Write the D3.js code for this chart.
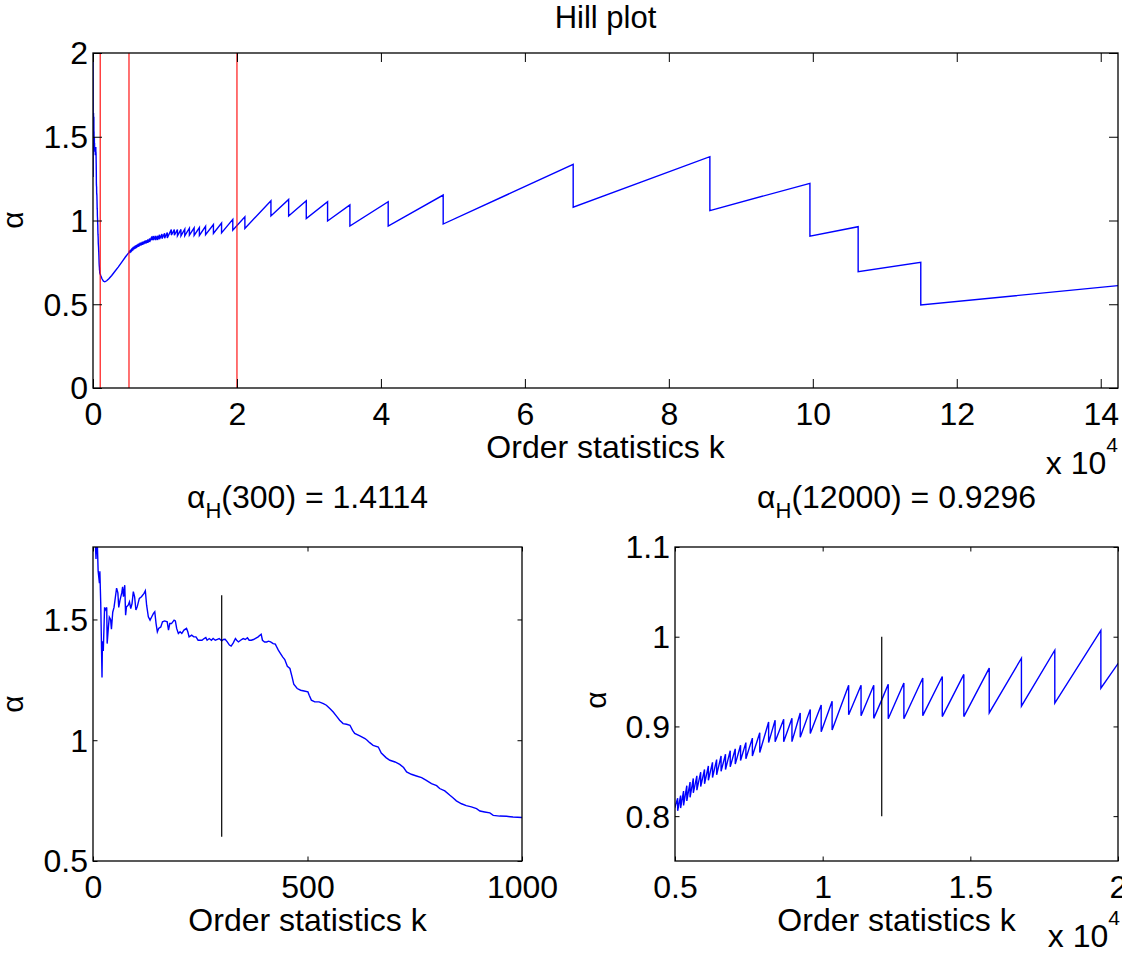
<!DOCTYPE html>
<html>
<head>
<meta charset="utf-8">
<script src="https://cdn.jsdelivr.net/npm/d3@7"></script>
<style>
  html, body { margin: 0; padding: 0; background: #fff; }
  svg { display: block; }
  text { font-family: "Liberation Sans", Arial, Helvetica, sans-serif; font-size: 32px; fill: #000; }
</style>
</head>
<body>
<svg id="fig" width="1122" height="953"></svg>
<script>
// Hill estimator alpha_H(k) for the first 1000 order statistics
const kHead = [1,3,5,7,9,10,12,15,16,18,19,21,22,24,27,29,32,33,36,38,41,43,46,49,52,55,58,60,63,67,69,71,74,76,78,82,85,88,91,94,97,100,103,108,113,119,122,125,129,133,137,141,144,147,150,153,158,162,167,173,176,179,183,189,192,195,199,203,207,212,218,221,224,230,235,240,245,249,254,259,263,266,271,276,280,285,290,294,300,304,308,313,318,322,327,332,335,339,344,350,355,360,364,369,374,378,385,389,392,395,400,405,409,414,420,425,428,432,436,442,447,453,459,464,468,476,484,492,501,504,509,517,527,537,544,552,560,568,575,583,591,599,605,610,622,634,639,645,653,665,672,683,692,704,715,724,731,742,754,766,777,789,801,808,820,832,839,847,859,870,882,894,902,913,925,933,948,964,979,1000];
const alphaHead = [2.40,2.10,1.84,1.75,1.85,1.82,1.70,1.65,1.70,1.57,1.47,1.26,1.41,1.37,1.55,1.54,1.55,1.40,1.47,1.51,1.50,1.46,1.53,1.55,1.59,1.63,1.61,1.55,1.58,1.61,1.635,1.594,1.642,1.518,1.552,1.559,1.573,1.545,1.566,1.615,1.594,1.539,1.552,1.587,1.594,1.608,1.619,1.559,1.511,1.497,1.511,1.525,1.532,1.483,1.449,1.463,1.469,1.490,1.494,1.490,1.456,1.483,1.483,1.497,1.494,1.463,1.442,1.449,1.442,1.456,1.463,1.449,1.428,1.435,1.428,1.428,1.414,1.414,1.414,1.421,1.425,1.414,1.421,1.414,1.421,1.414,1.418,1.421,1.4114,1.417,1.418,1.407,1.394,1.390,1.403,1.421,1.414,1.407,1.414,1.421,1.417,1.424,1.414,1.414,1.417,1.421,1.428,1.435,1.439,1.414,1.407,1.407,1.410,1.407,1.400,1.398,1.387,1.373,1.362,1.345,1.334,1.306,1.297,1.262,1.232,1.214,1.207,1.204,1.200,1.186,1.166,1.159,1.159,1.152,1.145,1.131,1.117,1.099,1.083,1.069,1.066,1.062,1.041,1.028,1.018,1.007,1.000,0.990,0.979,0.972,0.947,0.928,0.917,0.910,0.900,0.887,0.869,0.859,0.852,0.845,0.834,0.820,0.812,0.800,0.790,0.772,0.762,0.749,0.737,0.729,0.724,0.717,0.707,0.703,0.699,0.689,0.686,0.685,0.682,0.680];

// Smooth stretch between k = 1000 and k = 5000
const kMid = [1100,1250,1450,1650,1900,2200,2600,3000,3500,4000,4500,5000];
const alphaMid = [0.668,0.652,0.638,0.634,0.640,0.652,0.672,0.694,0.722,0.752,0.782,0.810];

// Tie-induced sawtooth beyond k = 5000 (vertices; repeated k marks a jump)
const kTail = [5090,5090,5190,5190,5290,5290,5400,5400,5510,5510,5620,5620,5740,5740,5870,5870,6000,6000,6130,6130,6270,6270,6410,6410,6560,6560,6710,6710,6870,6870,7040,7040,7220,7220,7400,7400,7620,7620,7870,7870,8170,8170,8390,8390,8680,8680,8960,8960,9240,9240,9580,9580,9950,9950,10320,10320,10880,10880,11300,11300,11730,11730,12000,12220,12220,12750,12750,13390,13390,14050,14050,14780,14780,15640,15640,16730,16730,17860,17860,19420,19420,21100,21100,24720,24720,27180,27180,29630,29630,32590,32590,35690,35690,41010,41010,48650,48650,66710,66710,85700,85700,99600,99600,106300,106300,115000,115000,142400];
const alphaTail = [0.820,0.806,0.823,0.809,0.828,0.812,0.834,0.817,0.838,0.821,0.842,0.826,0.845,0.829,0.849,0.833,0.852,0.836,0.856,0.840,0.860,0.843,0.863,0.846,0.867,0.850,0.869,0.852,0.873,0.855,0.875,0.858,0.879,0.862,0.882,0.864,0.887,0.867,0.893,0.871,0.905,0.882,0.907,0.883,0.908,0.883,0.909,0.883,0.915,0.888,0.919,0.892,0.924,0.894,0.928,0.896,0.946,0.913,0.946,0.912,0.946,0.909,0.9296,0.947,0.9085,0.9485,0.9085,0.954,0.912,0.9556,0.911,0.958,0.911,0.965,0.915,0.976,0.9226,0.985,0.926,1.007,0.9426,1.022,0.953,1.118,1.027,1.126,1.027,1.118,1.011,1.112,0.997,1.093,0.967,1.112,0.967,1.152,0.979,1.335,1.079,1.381,1.059,1.222,0.906,0.963,0.694,0.750,0.496,0.611];

const kMax = 142400;
const rangeLines = [1000, 5000, 20000];          // red guides on the overview
const pickK = [300, 12000];                       // highlighted order statistics
const pickAlpha = [1.4114, 0.9296];
const pickSpan = [[0.6, 1.6], [0.8, 1.0]];

const topXTicks = [0,20000,40000,60000,80000,100000,120000,140000];
const topYTicks = [0,0.5,1,1.5,2];
const blXTicks = [0,500,1000];
const blYTicks = [0.5,1,1.5];
const brXTicks = [5000,10000,15000,20000];
const brYTicks = [0.8,0.9,1,1.1];

const series = [];
kHead.forEach((k,i) => series.push({k, a: alphaHead[i]}));
kMid.forEach((k,i) => series.push({k, a: alphaMid[i]}));
kTail.forEach((k,i) => series.push({k, a: alphaTail[i]}));

const svg = d3.select("#fig");
const fmt = d3.format("");
let clipId = 0;

function panel(box, xDom, yDom, xTicks, yTicks, xFmt, yFmt, tickLen) {
  const x = d3.scaleLinear().domain(xDom).range([box.l, box.r]);
  const y = d3.scaleLinear().domain(yDom).range([box.b, box.t]);
  const g = svg.append("g");
  const id = "clip" + (clipId++);
  g.append("clipPath").attr("id", id).append("rect")
    .attr("x", box.l).attr("y", box.t).attr("width", box.r - box.l).attr("height", box.b - box.t);
  const plot = g.append("g").attr("clip-path", `url(#${id})`);
  plot.append("path").datum(series)
    .attr("fill", "none").attr("stroke", "#0000ff").attr("stroke-width", 1.4)
    .attr("stroke-linejoin", "miter")
    .attr("d", d3.line().x(d => x(d.k)).y(d => y(d.a)));

  const axes = g.append("g").attr("color", "#000");
  const cleanup = sel => { sel.attr("font-size", null).attr("font-family", null); sel.select(".domain").remove(); sel.selectAll("line").attr("stroke-width", 1); };
  const gb = axes.append("g").attr("transform", `translate(0,${box.b})`)
    .call(d3.axisBottom(x).tickValues(xTicks).tickSize(-tickLen).tickFormat(xFmt));
  cleanup(gb);
  gb.selectAll("text").attr("y", 37).attr("dy", null);
  const gt = axes.append("g").attr("transform", `translate(0,${box.t})`)
    .call(d3.axisTop(x).tickValues(xTicks).tickSize(-tickLen).tickFormat(""));
  cleanup(gt);
  const gl = axes.append("g").attr("transform", `translate(${box.l},0)`)
    .call(d3.axisLeft(y).tickValues(yTicks).tickSize(-tickLen).tickFormat(yFmt));
  cleanup(gl);
  gl.selectAll("text").attr("x", -5).attr("dy", "0.34em");
  const gr = axes.append("g").attr("transform", `translate(${box.r},0)`)
    .call(d3.axisRight(y).tickValues(yTicks).tickSize(-tickLen).tickFormat(""));
  cleanup(gr);
  return {g, plot, x, y, box};
}

function boxOutline(p) {
  p.g.append("rect").attr("x", p.box.l).attr("y", p.box.t)
    .attr("width", p.box.r - p.box.l).attr("height", p.box.b - p.box.t)
    .attr("fill", "none").attr("stroke", "#000").attr("stroke-width", 1.3);
}

function xLabel(p, baseline) {
  svg.append("text").attr("x", (p.box.l + p.box.r) / 2).attr("y", baseline)
    .attr("text-anchor", "middle").text("Order statistics k");
}
// Rotated axis symbol; baselineX is where the glyph's baseline sits
function yLabel(baselineX, cy) {
  svg.append("text").attr("transform", `translate(${baselineX},${cy}) rotate(-90)`)
    .attr("text-anchor", "middle").style("font-size", "30px").text("α");
}
function exponent(right, baseline) {
  const t = svg.append("text").attr("x", right).attr("y", baseline).attr("text-anchor", "end");
  t.append("tspan").text("x 10");
  t.append("tspan").attr("font-size", 21).attr("dy", -22).text("4");
}

// Overview
const overview = panel({l: 93, r: 1118, t: 53, b: 388}, [0, kMax], [0, 2],
  topXTicks, topYTicks, d => fmt(d / 1e4), fmt, 9);
overview.plot.selectAll("line.guide").data(rangeLines).join("line").attr("class", "guide")
  .attr("x1", d => overview.x(d)).attr("x2", d => overview.x(d))
  .attr("y1", overview.y(0)).attr("y2", overview.y(2))
  .attr("stroke", "#ff0000").attr("stroke-width", 1.1);
boxOutline(overview);
svg.append("text").attr("x", 605.5).attr("y", 28).attr("text-anchor", "middle")
  .style("font-size", "31px").text("Hill plot");
xLabel(overview, 458);
yLabel(23, 220);
exponent(1118, 474);

// Zoom on k <= 1000
const lowPanel = panel({l: 93, r: 522, t: 547, b: 861}, [0, 1000], [0.5, 1.8],
  blXTicks, blYTicks, fmt, fmt, 4.5);
// Zoom on 5000 <= k <= 20000
const midPanel = panel({l: 675, r: 1118, t: 547, b: 861}, [5000, 20000], [0.75, 1.1],
  brXTicks, brYTicks, d => fmt(d / 1e4), fmt, 4.5);

[lowPanel, midPanel].forEach((p, i) => {
  p.plot.append("line")
    .attr("x1", p.x(pickK[i])).attr("x2", p.x(pickK[i]))
    .attr("y1", p.y(pickSpan[i][0])).attr("y2", p.y(pickSpan[i][1]))
    .attr("stroke", "#000").attr("stroke-width", 1.2);
  boxOutline(p);
  xLabel(p, 931);
  const t = svg.append("text").attr("x", (p.box.l + p.box.r) / 2).attr("y", 508).attr("text-anchor", "middle");
  t.append("tspan").text("α");
  t.append("tspan").attr("font-size", 22).attr("dy", 10).text("H");
  t.append("tspan").attr("dy", -10).text(`(${pickK[i]}) = ${pickAlpha[i].toFixed(4)}`);
});
yLabel(23, 704);
yLabel(606, 700);
exponent(1120, 947);
</script>
</body>
</html>
